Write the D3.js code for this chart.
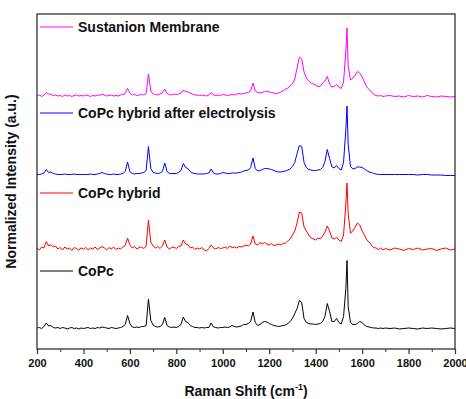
<!DOCTYPE html>
<html>
<head>
<meta charset="utf-8">
<script src="https://cdn.jsdelivr.net/npm/d3@7"></script>
<style>
  body { margin: 0; background: #fff; }
  text { font-family: "Liberation Sans", Arial, sans-serif; font-weight: bold; fill: #111; }
</style>
</head>
<body>
<div id="svg_container"></div>
<script>
// Raman shift grid (cm-1), shared by all spectra
const shift = [
  200, 210, 220, 230, 240, 250, 260, 270, 280, 290,
  300, 310, 320, 330, 340, 350, 360, 370, 380, 390,
  400, 410, 420, 430, 440, 450, 460, 470, 480, 490,
  500, 510, 520, 530, 540, 550, 560, 570, 580, 590,
  600, 610, 620, 630, 640, 650, 660, 670, 680, 690,
  700, 710, 720, 730, 740, 750, 760, 770, 780, 790,
  800, 810, 820, 830, 840, 850, 860, 870, 880, 890,
  900, 910, 920, 930, 940, 950, 960, 970, 980, 990,
  1000, 1010, 1020, 1030, 1040, 1050, 1060, 1070, 1080, 1090,
  1100, 1110, 1120, 1130, 1140, 1150, 1160, 1170, 1180, 1190,
  1200, 1210, 1220, 1230, 1240, 1250, 1260, 1270, 1280, 1290,
  1300, 1310, 1320, 1330, 1340, 1350, 1360, 1370, 1380, 1390,
  1400, 1410, 1420, 1430, 1440, 1450, 1460, 1470, 1480, 1490,
  1500, 1510, 1520, 1530, 1535, 1540, 1550, 1560, 1570, 1580, 1590,
  1600, 1610, 1620, 1630, 1640, 1650, 1660, 1670, 1680, 1690, 1700,
  1720, 1740, 1760, 1780, 1800, 1820, 1840, 1860, 1880, 1900, 1920, 1940, 1960, 1980, 2000
];

// intensities above each spectrum's own baseline (a.u.)
const copc = [
  0.5, 1, 0, 2, 5.5, 2.5, 3, 1, 0.5, 1,
  0, 1, 0.5, -0.5, 0.5, 1, 0, 0.5, -0.5, 0.5,
  0, 0.5, 1, 0, 0.5, 0, 1, 0.5, 1.5, 1,
  0.5, 0, 1, 0.5, 0, 0.5, 1, 2, 4, 13,
  5, 1.5, 1, 1.5, 1, 2, 2, 3, 29.5, 8,
  3.5, 2, 1.5, 2, 4, 11, 3, 1.5, 1, 1.5,
  1, 2, 4, 11.5, 7, 6, 3, 2, 1, 1,
  0.5, 1, 0.5, 1, 1, 5.5, 1.5, 1, 0.5, 1,
  1, 1.5, 1, 1.5, 3, 2, 1.5, 2, 2.5, 4,
  4, 5, 7, 16.5, 6, 3, 4, 6, 7, 6.5,
  5, 4, 3, 2.5, 2, 2.5, 3, 3.5, 5, 7,
  10, 15, 20, 28, 26, 10, 6, 5, 4.5, 4.5,
  4, 4.5, 5, 7, 12, 25, 17, 7, 7, 10,
  6, 4.5, 12, 40, 68, 22, 6, 4, 4, 5, 7,
  6, 3.5, 2, 1.5, 1, 0.5, 0.5, 0, 0.5, 0, 0.5,
  0, 0.5, -0.5, 0, 0.5, 0, -0.5, 0.5, 0, 0.5, 0, -0.5, 0, 0.5, 0
];

const copcHybrid = [
  1, -1, 2, 1, 7.5, 3, 4.5, 2, 3, 0,
  1.5, -1, 2, 0, 1, -1.5, 1.5, 0.5, -1, 1,
  0, 1.5, -1, 1, 0, 2, -0.5, 1, 2.5, 1,
  -1, 1.5, 0, 2, -0.5, 1, 0, 2, 3.5, 11,
  4, 1, 2.5, 0, 1.5, 2, 0.5, 3, 29, 7,
  3, 1, 2.5, 0.5, 3, 9, 2, 0, 1.5, 2,
  0.5, 2.5, 3, 9, 5, 4.5, 1, 2, -0.5, 1,
  0, 1.5, -1, -2, 0.5, 4, 1, 0, 1.5, 0.5,
  1, 2, 0.5, 3, 1.5, 2, 1, 2.5, 2, 3,
  4, 3, 5, 13, 5, 4, 6.5, 5, 6.5, 5,
  4, 5.5, 3.5, 4, 5, 4, 5.5, 6, 8, 10,
  14, 18, 26, 37, 36, 22, 18, 14, 11, 10,
  9, 11, 10, 13, 17, 23, 18, 11, 10, 11.5,
  9, 7.5, 14, 45, 66, 35, 16, 18, 22, 26, 24,
  18, 14, 9, 7, 4, 1.5, 1, -0.5, 1, -1, 0.5,
  -1, 1, 0, -1.5, 0.5, -0.5, 1, -1, 0, 0.5, -1.5, 0, 1, -1, 0
];

const copcAfter = [
  0, 0, 0.5, 1.5, 5, 2, 2.5, 1, 0.5, 0,
  0, 0, 0.5, 0, 0, 0, 0.5, 0, 0, 0,
  0, 0, 0, 0.5, 0, 0, 0.5, 1, 2, 1,
  0.5, 0, 0, 0.5, 0, 0, 0.5, 1, 3, 12.5,
  3, 1, 0.5, 1, 1, 1.5, 2, 4, 28, 6,
  2, 1.5, 1, 1.5, 3, 11.5, 3, 1, 1, 1,
  1, 2, 4, 11, 7, 6, 3, 1.5, 1, 0.5,
  0.5, 0.5, 0.5, 1, 1.5, 5.5, 1.5, 0.5, 0.5, 1,
  2, 1.5, 1, 1, 1.5, 1.5, 1.5, 2, 2.5, 3.5,
  4, 4.5, 7, 16.5, 6, 3.5, 4, 5, 6, 6,
  5.5, 5, 4, 3, 2.5, 2.5, 3, 3.5, 4.5, 5.5,
  8, 12, 21, 29, 28, 12, 7, 5, 4.5, 4,
  4, 4.5, 5, 7, 13, 25, 16, 7.5, 6.5, 9,
  6, 4.5, 12, 45, 68.5, 30, 8, 5.5, 6, 7.5, 7.5,
  7, 5.5, 4, 2.5, 2, 1, 0.5, 0, 0, 0, 0,
  0, 0, 0, 0, 0, 0, -0.5, 0, 0, -0.5, -0.5, -0.5, -1, -1, -1
];

const sustanion = [
  0, 1, -0.5, 1, 3.5, 2, 1.5, 0.5, 1, 0,
  0.5, -0.5, 1, 0, 0.5, -0.5, 0.5, 1, 0, 0.5,
  0, 1, 0.5, -0.5, 0.5, 0, 1, 0.5, 2, 1,
  0, 0.5, 1, 0, 0.5, 0, 1, 1.5, 2.5, 7.5,
  3, 1, 1.5, 0.5, 1, 1.5, 1, 2.5, 22, 5,
  2, 1.5, 1, 2, 3, 7, 2.5, 1.5, 1, 2,
  1.5, 2, 3, 6, 4.5, 4, 3, 2, 1, 1,
  0.5, 1, 0.5, 0, 1, 3.5, 1, 0.5, 1, 0.5,
  1.5, 1, 0.5, 1, 1.5, 1, 2, 2.5, 2, 2.5,
  3, 3.5, 5, 13, 5, 3.5, 3, 3.5, 4.5, 5,
  4, 3.5, 3, 2.5, 3, 4, 5, 7, 8, 10,
  12, 17, 28, 39, 37, 24, 18, 15, 13, 12,
  11, 9, 10, 13, 15, 19.5, 12, 9, 9.5, 11.5,
  9, 7.5, 14, 45, 68, 30, 16, 18, 21, 24.5, 23,
  19, 14, 9, 6.5, 4, 1.5, 0.5, 0, 0.5, -0.5, 0,
  0.5, -0.5, 0, -1, 0.5, -0.5, 0, -1, 0.5, -0.5, -1, 0, -0.5, -1, -0.5
];

const seriesNames = ["CoPc", "CoPc hybrid", "CoPc hybrid after electrolysis", "Sustanion Membrane"];
const seriesValues = [copc, copcHybrid, copcAfter, sustanion];
const seriesColors = ["#000000", "#ff0000", "#0000ff", "#ff00ff"];
const offsets = [20.5, 100, 174.5, 253];   // vertical stacking of the spectra
const xTicks = [200, 400, 600, 800, 1000, 1200, 1400, 1600, 1800, 2000];
const xMinorTicks = [300, 500, 700, 900, 1100, 1300, 1500, 1700, 1900];

const margin = { top: 14, right: 11, bottom: 50, left: 37 },
    width = 466 - margin.left - margin.right,
    height = 399 - margin.top - margin.bottom;

const svg = d3.select("#svg_container")
    .append("svg")
    .attr("width", width + margin.left + margin.right)
    .attr("height", height + margin.top + margin.bottom)
    .append("g")
    .attr("transform", `translate(${margin.left}, ${margin.top})`);

const x = d3.scaleLinear().domain([200, 2000]).range([0, width]);
const y = d3.scaleLinear().domain([0, 335]).range([height, 0]);

// minor ticks
svg.append("g")
    .attr("transform", "translate(0," + height + ")")
    .call(d3.axisBottom(x).tickValues(xMinorTicks).tickSize(3).tickSizeOuter(0).tickFormat(""))
    .call(g => g.select(".domain").remove())
    .selectAll("line").attr("stroke", "#333");

// major ticks + labels
const xAxis = svg.append("g")
    .attr("transform", "translate(0," + height + ")")
    .call(d3.axisBottom(x).tickValues(xTicks).tickSize(5).tickSizeOuter(0).tickPadding(5)
        .tickFormat(d3.format("d")));
xAxis.select(".domain").remove();
xAxis.selectAll("line").attr("stroke", "#333").attr("stroke-width", 1.2);
xAxis.selectAll("text")
    .attr("font-size", 11)
    .attr("font-family", "'Liberation Sans', Arial, sans-serif")
    .attr("font-weight", "bold")
    .attr("fill", "#111");

// spectra
const line = d3.line()
    .x((d, i) => x(shift[i]))
    .y(d => d);

seriesValues.forEach(function (vals, k) {
    svg.append("path")
        .datum(vals.map(v => y(v + offsets[k])))
        .attr("fill", "none")
        .attr("stroke", seriesColors[k])
        .attr("stroke-width", 1)
        .attr("stroke-linejoin", "round")
        .attr("d", line);
});

// frame
svg.append("rect")
    .attr("x", 0)
    .attr("y", 0)
    .attr("width", width)
    .attr("height", height)
    .attr("fill", "none")
    .attr("stroke", "#333")
    .attr("stroke-width", 1.3);

// legend labels sitting above each trace
const legendTop = [257, 179, 99, 13];
seriesNames.forEach(function (name, k) {
    svg.append("line")
        .attr("x1", 3)
        .attr("x2", 36)
        .attr("y1", legendTop[k])
        .attr("y2", legendTop[k])
        .attr("stroke", seriesColors[k])
        .attr("stroke-width", 1);
    svg.append("text")
        .attr("x", 41)
        .attr("y", legendTop[k] + 5.3)
        .attr("font-size", 14)
        .text(name);
});

// axis titles
const xTitle = svg.append("text")
    .attr("x", width / 2)
    .attr("y", height + 47)
    .attr("text-anchor", "middle")
    .attr("font-size", 14);
xTitle.append("tspan").text("Raman Shift (cm");
xTitle.append("tspan").attr("dy", -6).attr("font-size", 9).text("-1");
xTitle.append("tspan").attr("dy", 6).text(")");

svg.append("text")
    .attr("transform", `translate(${-21}, ${height / 2}) rotate(-90)`)
    .attr("text-anchor", "middle")
    .attr("font-size", 14)
    .text("Normalized Intensity (a.u.)");
</script>
</body>
</html>
